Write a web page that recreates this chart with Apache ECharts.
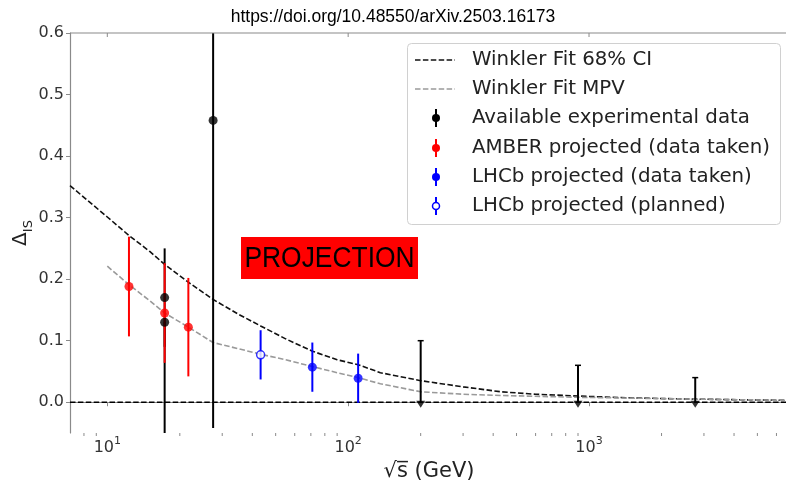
<!DOCTYPE html>
<html>
<head>
<meta charset="utf-8">
<script src="https://cdn.jsdelivr.net/npm/echarts@6/dist/echarts.min.js"></script>
<style>html,body{margin:0;padding:0;background:#fff;}#c{width:786px;height:481px;}</style>
</head>
<body>
<div id="c"></div>
<script>
// ---------- data ----------
const xMin = 7.0, xMax = 6700;
const yMin = -0.05, yMax = 0.6;

// Winkler fit 68% CI (black dashed)
const ciX = [7.0, 10, 12.3, 15, 17.3, 21.7, 27.5, 35, 43.3, 55, 71, 90, 110, 136, 200, 300, 430, 600, 906, 1500, 2770, 6700];
const ciY = [0.352, 0.301, 0.271, 0.245, 0.224, 0.195, 0.167, 0.143, 0.124, 0.103, 0.083, 0.069, 0.061, 0.048, 0.035, 0.025, 0.017, 0.013, 0.010, 0.007, 0.005, 0.003];
// Winkler fit MPV (gray dashed)
const mpvX = [10, 12.3, 15, 17.3, 21.7, 27.5, 35, 43.3, 55, 71, 90, 110, 136, 200, 300, 430, 906, 2770, 6700];
const mpvY = [0.221, 0.191, 0.165, 0.145, 0.122, 0.097, 0.087, 0.078, 0.069, 0.058, 0.048, 0.040, 0.030, 0.017, 0.013, 0.011, 0.008, 0.005, 0.003];

// Available experimental data
const expX = [17.3, 17.3, 27.5];
const expY = [0.17, 0.13, 0.458];
const expLow = [0.09, -0.12, -0.042];
const expHigh = [0.25, 0.13, 0.958];
// Available experimental data: upper limits
const ulX = [200, 900, 2760];
const ulY = [0, 0, 0];
const ulHigh = [0.10, 0.06, 0.04];
// AMBER projected (data taken)
const amberX = [12.3, 17.3, 21.7];
const amberY = [0.188, 0.145, 0.122];
const amberErr = [0.081, 0.081, 0.08];
// LHCb projected (data taken)
const lhcbX = [71, 110];
const lhcbY = [0.057, 0.039];
const lhcbErr = [0.04, 0.04];
// LHCb projected (planned)
const lhcbPlX = [43.3];
const lhcbPlY = [0.077];
const lhcbPlErr = [0.04];

// log ticks
const minorTicks = [8, 9, 20, 30, 40, 50, 60, 70, 80, 90, 200, 300, 400, 500, 600, 700, 800, 900, 2000, 3000, 4000, 5000, 6000];
const topTicks = [10, 100, 1000];

// ---------- helpers ----------
const zip = (xs, ys) => xs.map((x, i) => [x, ys[i]]);
const errData = (xs, ys, lo, hi) => xs.map((x, i) => [x, ys[i], lo[i], hi[i]]);
const symErr = (xs, ys, e) => errData(xs, ys, ys.map((y, i) => y - e[i]), ys.map((y, i) => y + e[i]));

function errRender(color, lw, cap) {
  return function (params, api) {
    const x = api.value(0), lo = api.value(2), hi = api.value(3);
    const cs = params.coordSys;
    const p1 = api.coord([x, lo]);
    const p2 = api.coord([x, hi]);
    const top = cs.y, bot = cs.y + cs.height;
    const y1 = Math.min(Math.max(p1[1], top), bot);
    const y2 = Math.min(Math.max(p2[1], top), bot);
    const children = [{
      type: 'line',
      shape: { x1: p1[0], y1: y1, x2: p2[0], y2: y2 },
      style: { stroke: color, lineWidth: lw }
    }];
    if (cap) {
      children.push({
        type: 'line',
        shape: { x1: p2[0] - 3, y1: y2, x2: p2[0] + 3, y2: y2 },
        style: { stroke: color, lineWidth: 1.5 }
      });
    }
    return { type: 'group', children: children };
  };
}

function tickRender(yVal, len) {
  return function (params, api) {
    const p = api.coord([api.value(0), yVal]);
    return { type: 'line', shape: { x1: p[0], y1: p[1], x2: p[0], y2: p[1] + len }, style: { stroke: axisGray, lineWidth: 1 } };
  };
}

const chart = echarts.init(document.getElementById('c'), null, { renderer: 'canvas' });
const FONT = 'DejaVu Sans';
const axisGray = '#8a8a8a';

function xLabel(v) {
  const e = Math.round(Math.log10(v));
  if (Math.abs(v - Math.pow(10, e)) > 1e-6 * v) return '';
  return '{b|10}{s|' + e + '}';
}

const legendText = (y, t) => ({
  type: 'text', x: 472, y: y,
  style: { text: t, fontFamily: FONT, fontSize: 19.8, fill: '#222', verticalAlign: 'middle' }
});

const option = {
  animation: false,
  backgroundColor: '#fff',
  title: {
    text: 'https://doi.org/10.48550/arXiv.2503.16173',
    left: 'center',
    top: 3,
    textStyle: { fontFamily: 'Liberation Sans', fontSize: 17.5, fontWeight: 'normal', color: '#000' }
  },
  grid: {
    left: 70, top: 33, right: -2, bottom: 48, containLabel: false, outerBoundsMode: 'none'
  },
  xAxis: {
    type: 'log', logBase: 10, min: xMin, max: xMax,
    name: '√s̅ (GeV)', nameLocation: 'middle', nameGap: 21,
    nameTextStyle: { fontFamily: FONT, fontSize: 21, color: '#222' },
    axisLine: { show: true, lineStyle: { color: axisGray, width: 1.2 } },
    axisTick: { show: true, length: 4, lineStyle: { color: axisGray } },
    splitLine: { show: false },
    minorTick: { show: false },
    axisLabel: {
      formatter: xLabel, margin: 3, color: '#333', fontFamily: FONT, fontSize: 16,
      rich: {
        b: { fontFamily: FONT, fontSize: 16, color: '#333', lineHeight: 20, verticalAlign: 'bottom' },
        s: { fontFamily: FONT, fontSize: 11, color: '#333', lineHeight: 11, verticalAlign: 'top' }
      }
    }
  },
  yAxis: {
    type: 'value', min: yMin, max: yMax, splitNumber: 6, minInterval: 0.1, maxInterval: 0.1,
    name: '{d|Δ}{s|IS}', nameLocation: 'middle', nameGap: 35, nameRotate: 90, nameMoveOverlap: false,
    nameTextStyle: {
      fontFamily: FONT, fontSize: 19, color: '#222',
      rich: {
        d: { fontFamily: FONT, fontSize: 20, color: '#222', lineHeight: 24, verticalAlign: 'top' },
        s: { fontFamily: FONT, fontSize: 13, color: '#222', lineHeight: 13, verticalAlign: 'bottom' }
      }
    },
    axisLine: { show: true, lineStyle: { color: axisGray, width: 1.2 } },
    axisTick: { show: true, length: 4, lineStyle: { color: axisGray } },
    splitLine: { show: false },
    axisLabel: {
      showMinLabel: false, margin: 6, color: '#333', fontFamily: FONT, fontSize: 16,
      formatter: v => (Math.abs(Math.round(v * 10) - v * 10) < 1e-6 ? v.toFixed(1) : '')
    }
  },
  series: [
    {
      name: 'topSpine', type: 'line', data: [[xMin, yMax], [xMax, yMax]], symbol: 'none', z: 8, clip: false,
      lineStyle: { color: axisGray, width: 1.2 }, silent: true
    },
    {
      name: 'topTicks', type: 'custom', z: 8, silent: true, clip: false,
      data: topTicks.map(v => [v, yMax]), renderItem: tickRender(yMax, 4)
    },
    {
      name: 'zero', type: 'line', data: [[xMin, 0], [xMax, 0]], symbol: 'none', z: 2,
      lineStyle: { color: '#000', width: 1.5, type: [5.5, 2.4] }, silent: true
    },
    {
      name: 'Winkler Fit 68% CI', type: 'line', data: zip(ciX, ciY), symbol: 'none', z: 2,
      lineStyle: { color: '#111', width: 1.6, type: [5.5, 2.4] }
    },
    {
      name: 'Winkler Fit MPV', type: 'line', data: zip(mpvX, mpvY), symbol: 'none', z: 2,
      lineStyle: { color: '#9a9a9a', width: 1.6, type: [5.5, 2.4] }
    },
    {
      name: 'expErr', type: 'custom', renderItem: errRender('#000', 2, false), z: 3,
      data: errData(expX, expY, expLow, expHigh), encode: { x: 0, y: 1 }
    },
    {
      name: 'ulErr', type: 'custom', renderItem: errRender('#000', 2, true), z: 3,
      data: errData(ulX, ulY, ulY, ulHigh), encode: { x: 0, y: 1 }
    },
    {
      name: 'amberErr', type: 'custom', renderItem: errRender('#ff0000', 2, false), z: 4,
      data: symErr(amberX, amberY, amberErr), encode: { x: 0, y: 1 }
    },
    {
      name: 'lhcbErr', type: 'custom', renderItem: errRender('#0000ff', 2, false), z: 4,
      data: symErr(lhcbX, lhcbY, lhcbErr), encode: { x: 0, y: 1 }
    },
    {
      name: 'lhcbPlErr', type: 'custom', renderItem: errRender('#0000ff', 2, false), z: 4,
      data: symErr(lhcbPlX, lhcbPlY, lhcbPlErr), encode: { x: 0, y: 1 }
    },
    {
      name: 'Available experimental data', type: 'scatter', data: zip(expX, expY), z: 6,
      symbol: 'circle', symbolSize: 9, itemStyle: { color: '#000' }
    },
    {
      name: 'ulMarker', type: 'scatter', data: zip(ulX, ulY), z: 6,
      symbol: 'triangle', symbolRotate: 180, symbolSize: [9, 7], symbolOffset: [0, 2],
      itemStyle: { color: '#000' }
    },
    {
      name: 'AMBER projected (data taken)', type: 'scatter', data: zip(amberX, amberY), z: 7,
      symbol: 'circle', symbolSize: 9, itemStyle: { color: '#ff0000' }
    },
    {
      name: 'LHCb projected (data taken)', type: 'scatter', data: zip(lhcbX, lhcbY), z: 7,
      symbol: 'circle', symbolSize: 9, itemStyle: { color: '#0000ff' }
    },
    {
      name: 'LHCb projected (planned)', type: 'scatter', data: zip(lhcbPlX, lhcbPlY), z: 7,
      symbol: 'circle', symbolSize: 8, itemStyle: { color: '#fff', borderColor: '#0000ff', borderWidth: 1.5 }
    },
    {
      name: 'minorTicks', type: 'custom', z: 5, silent: true, clip: false,
      data: minorTicks.map(v => [v, yMin]), renderItem: tickRender(yMin, 3)
    }
  ],
  graphic: [
    // PROJECTION label
    { type: 'rect', left: 241, top: 237, shape: { width: 177, height: 42 }, style: { fill: '#ff0000' }, z: 20 },
    {
      type: 'text', x: 329.5, y: 258.5, scaleX: 0.88, z: 21,
      style: { text: 'PROJECTION', fontFamily: 'Liberation Sans', fontSize: 30, fill: '#000', align: 'center', verticalAlign: 'middle' }
    },
    // legend
    {
      type: 'group', z: 30, children: [
        { type: 'rect', shape: { x: 407.5, y: 43.5, width: 373, height: 181, r: 4 }, style: { fill: 'rgba(255,255,255,0.85)', stroke: '#d0d0d0', lineWidth: 1 } },
        { type: 'line', shape: { x1: 415, y1: 60, x2: 455, y2: 60 }, style: { stroke: '#111', lineWidth: 1.6, lineDash: [5.5, 2.4] } },
        { type: 'line', shape: { x1: 415, y1: 89, x2: 455, y2: 89 }, style: { stroke: '#9a9a9a', lineWidth: 1.6, lineDash: [5.5, 2.4] } },
        { type: 'line', shape: { x1: 436, y1: 109, x2: 436, y2: 127 }, style: { stroke: '#000', lineWidth: 2 } },
        { type: 'circle', shape: { cx: 436, cy: 118, r: 4 }, style: { fill: '#000' } },
        { type: 'line', shape: { x1: 436, y1: 139, x2: 436, y2: 157 }, style: { stroke: '#ff0000', lineWidth: 2 } },
        { type: 'circle', shape: { cx: 436, cy: 148, r: 4 }, style: { fill: '#ff0000' } },
        { type: 'line', shape: { x1: 436, y1: 168, x2: 436, y2: 186 }, style: { stroke: '#0000ff', lineWidth: 2 } },
        { type: 'circle', shape: { cx: 436, cy: 177, r: 4 }, style: { fill: '#0000ff' } },
        { type: 'line', shape: { x1: 436, y1: 197, x2: 436, y2: 215 }, style: { stroke: '#0000ff', lineWidth: 2 } },
        { type: 'circle', shape: { cx: 436, cy: 206, r: 3.5 }, style: { fill: '#fff', stroke: '#0000ff', lineWidth: 1.5 } },
        legendText(60, 'Winkler Fit 68% CI'),
        legendText(89, 'Winkler Fit MPV'),
        legendText(118, 'Available experimental data'),
        legendText(148, 'AMBER projected (data taken)'),
        legendText(177, 'LHCb projected (data taken)'),
        legendText(206, 'LHCb projected (planned)')
      ]
    }
  ]
};
chart.setOption(option);
</script>
</body>
</html>
